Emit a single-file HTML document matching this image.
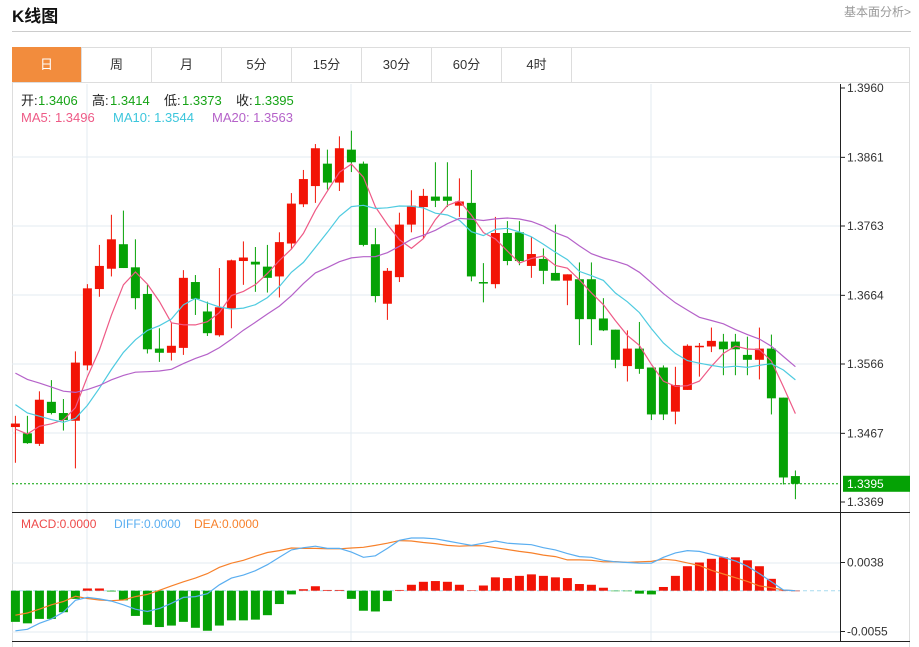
<!DOCTYPE html>
<html><head><meta charset="utf-8">
<style>
body{margin:0;width:919px;height:647px;background:#fff;font-family:"Liberation Sans","Noto Sans CJK SC",sans-serif;overflow:hidden;position:relative}
.title{position:absolute;left:12px;top:2px;font-size:17px;font-weight:bold;color:#111}
.more{position:absolute;right:8px;top:3px;font-size:12px;color:#999}
.hr{position:absolute;left:12px;top:31px;width:899px;height:1px;background:#ccc}
.box{position:absolute;left:12px;top:47px;width:898px;height:600px;border:1px solid #ddd;border-bottom:none;box-sizing:border-box}
.tabs{position:absolute;left:12px;top:47px;height:36px;display:flex;border-bottom:1px solid #ddd;width:898px;box-sizing:border-box}
.tab{width:70px;height:35px;line-height:35px;text-align:center;font-size:13px;color:#333;border-right:1px solid #ddd;box-sizing:border-box}
.tab.on{background:#f28c3d;color:#fff}
svg{position:absolute;left:0;top:0}
</style></head><body>
<div class="title">K线图</div>
<div class="more">基本面分析&gt;</div>
<div class="hr"></div>
<div class="box"></div>
<div class="tabs">
<div class="tab on">日</div>
<div class="tab">周</div>
<div class="tab">月</div>
<div class="tab">5分</div>
<div class="tab">15分</div>
<div class="tab">30分</div>
<div class="tab">60分</div>
<div class="tab">4时</div>
</div>
<svg id="c" width="919" height="647"></svg>
<script>
const opens=[1.3476,1.3467,1.3452,1.3512,1.3496,1.3485,1.3564,1.3673,1.3702,1.3737,1.3704,1.3666,1.3588,1.3582,1.3589,1.3683,1.3641,1.3607,1.3645,1.3713,1.3712,1.3705,1.3691,1.3738,1.3794,1.3820,1.3852,1.3825,1.3872,1.3852,1.3737,1.3652,1.3690,1.3765,1.3790,1.3805,1.3805,1.3792,1.3796,1.3683,1.3680,1.3753,1.3754,1.3706,1.3716,1.3696,1.3685,1.3687,1.3687,1.3631,1.3615,1.3563,1.3588,1.3561,1.3561,1.3498,1.3529,1.3590,1.3591,1.3598,1.3598,1.3579,1.3572,1.3588,1.3518,1.3406];
const highs=[1.3492,1.3492,1.3527,1.3543,1.3516,1.3584,1.3680,1.3736,1.3779,1.3785,1.3744,1.3679,1.3617,1.3624,1.3700,1.3693,1.3655,1.3703,1.3715,1.3741,1.3733,1.3736,1.3754,1.3810,1.3843,1.3880,1.3872,1.3891,1.3899,1.3855,1.3760,1.3703,1.3782,1.3814,1.3816,1.3854,1.3854,1.3831,1.3843,1.3710,1.3776,1.3770,1.3770,1.3748,1.3731,1.3765,1.3694,1.3711,1.3711,1.3660,1.3615,1.3614,1.3626,1.3561,1.3564,1.3562,1.3594,1.3596,1.3618,1.3609,1.3609,1.3605,1.3618,1.3608,1.3518,1.3414];
const lows=[1.3425,1.3452,1.3449,1.3494,1.3471,1.3417,1.3557,1.3662,1.3691,1.3703,1.3644,1.3581,1.3569,1.3571,1.3579,1.3636,1.3606,1.3605,1.3617,1.3679,1.3669,1.3668,1.3661,1.3730,1.3790,1.3796,1.3815,1.3813,1.3840,1.3734,1.3654,1.3629,1.3683,1.3754,1.3745,1.3790,1.3790,1.3776,1.3684,1.3654,1.3674,1.3707,1.3707,1.3689,1.3680,1.3685,1.3650,1.3593,1.3593,1.3613,1.3560,1.3541,1.3552,1.3486,1.3486,1.3480,1.3529,1.3548,1.3583,1.3550,1.3550,1.3550,1.3544,1.3494,1.3394,1.3373];
const closes=[1.3481,1.3453,1.3515,1.3496,1.3486,1.3568,1.3674,1.3706,1.3744,1.3703,1.3660,1.3587,1.3582,1.3592,1.3689,1.3659,1.3610,1.3647,1.3714,1.3718,1.3708,1.3689,1.3740,1.3795,1.3830,1.3874,1.3825,1.3874,1.3854,1.3736,1.3663,1.3699,1.3765,1.3792,1.3806,1.3799,1.3799,1.3798,1.3691,1.3681,1.3753,1.3713,1.3713,1.3723,1.3699,1.3685,1.3694,1.3630,1.3630,1.3614,1.3572,1.3588,1.3559,1.3494,1.3494,1.3536,1.3592,1.3592,1.3599,1.3587,1.3587,1.3572,1.3588,1.3517,1.3404,1.3395];
const priorCloses=[1.3633,1.3620,1.3610,1.3605,1.3600,1.3595,1.3590,1.3580,1.3577,1.3570,1.3573,1.3560,1.3545,1.3525,1.3512,1.3488,1.3460,1.3478,1.3458];
const macdBars=[-0.0042,-0.0044,-0.0038,-0.0038,-0.0029,-0.0011,0.0003,0.0003,-0.0001,-0.0013,-0.0034,-0.0046,-0.0049,-0.0047,-0.0042,-0.0050,-0.0054,-0.0047,-0.0040,-0.0040,-0.0039,-0.0033,-0.0018,-0.0005,0.0002,0.0006,0.0001,0.0001,-0.0011,-0.0027,-0.0028,-0.0014,0.0001,0.0008,0.0012,0.0013,0.0012,0.0008,0.00003,0.0007,0.0018,0.0017,0.0020,0.0022,0.0020,0.0018,0.0017,0.0009,0.0008,0.0004,-0.00004,-0.00004,-0.0004,-0.0005,0.0005,0.0020,0.0033,0.0038,0.0043,0.0045,0.0045,0.0041,0.0033,0.0016,0.00002,0];
const diffLine=[-0.0054,-0.0052,-0.0044,-0.0038,-0.0029,-0.0013,-0.0009,-0.0011,-0.0014,-0.0019,-0.0025,-0.0028,-0.0024,-0.0017,-0.0009,-0.0008,-0.0004,0.0008,0.0017,0.0021,0.0027,0.0035,0.0045,0.0055,0.0058,0.0060,0.0057,0.0057,0.0052,0.0045,0.0047,0.0057,0.0068,0.0071,0.0071,0.0070,0.0067,0.0064,0.0061,0.0064,0.0067,0.0064,0.0063,0.0062,0.0058,0.0055,0.0050,0.0046,0.0045,0.0041,0.0039,0.0038,0.0037,0.0037,0.0045,0.0051,0.0054,0.0053,0.0049,0.0045,0.0040,0.0033,0.0023,0.0012,0.0001,0];
const priceTicks=[1.3960,1.3861,1.3763,1.3664,1.3566,1.3467,1.3369];
const macdTicks=[0.0038,-0.0055];

const svg=document.getElementById('c');
const NS='http://www.w3.org/2000/svg';
function mk(t,a,p){const e=document.createElementNS(NS,t);for(const k in a)e.setAttribute(k,a[k]);(p||svg).appendChild(e);return e;}
const yP=p=>88+(1.3960-p)*7005;
const yM=v=>590.7-v*7419;
const xI=i=>15.4+12*i;
const RED='#f21406',GRN='#05a205';

// grid
[157,226,295,364,433].forEach((y,k)=>{const g=mk('line',{x1:12,x2:840,y1:y,y2:y,stroke:'#e3ebf2'});

});
[563,632].forEach(y=>{const g=mk('line',{x1:12,x2:840,y1:y,y2:y,stroke:'#e3ebf2'});

});
[87,351,651].forEach(x=>{const g=mk('line',{x1:x,x2:x,y1:84,y2:642,stroke:'#e3ebf2'});

});
// frame lines
let ln=mk('line',{x1:840.5,x2:840.5,y1:84,y2:642,stroke:'#222'});


ln=mk('line',{x1:12,x2:910,y1:512.5,y2:512.5,stroke:'#222'});


ln=mk('line',{x1:12,x2:910,y1:641.5,y2:641.5,stroke:'#222'});



// price ticks
priceTicks.forEach(v=>{const y=yP(v);
const t=mk('line',{x1:840,x2:845,y1:y,y2:y,stroke:'#222'});


const tx=mk('text',{x:847,y:y+4,'font-size':12,fill:'#333'});tx.textContent=v.toFixed(4);

});
macdTicks.forEach(v=>{const y=yM(v);
const t=mk('line',{x1:840,x2:845,y1:y,y2:y,stroke:'#222'});


const tx=mk('text',{x:847,y:y+4,'font-size':12,fill:'#333'});tx.textContent=v.toFixed(4);

});

// candles
for(let i=0;i<closes.length;i++){
  const up=closes[i]>=opens[i],c=up?RED:GRN,x=xI(i);
  const g=mk('g',{});
  
  
  mk('line',{x1:x,x2:x,y1:yP(highs[i]),y2:yP(lows[i]),stroke:c,'stroke-width':1},g);
  const t=Math.min(yP(opens[i]),yP(closes[i])),h=Math.max(1.5,Math.abs(yP(opens[i])-yP(closes[i])));
  mk('rect',{x:x-4.5,y:t,width:9,height:h,fill:c},g);
}
// MAs
const full=priorCloses.concat(closes);
function ma(n){const r=[];for(let i=0;i<closes.length;i++){let s=0;for(let k=0;k<n;k++)s+=full[priorCloses.length+i-k];r.push(s/n);}return r;}
[[5,'#ee5a86','ma5-line'],[10,'#4fcbe0','ma10-line'],[20,'#b562c9','ma20-line']].forEach(([n,col,name])=>{
  const m=ma(n);const pts=m.map((v,i)=>xI(i).toFixed(1)+','+yP(v).toFixed(1)).join(' ');
  const p=mk('polyline',{points:pts,fill:'none',stroke:col,'stroke-width':1.2});
  
  
});
// current price line
const cy=yP(closes[closes.length-1]);
ln=mk('line',{x1:12,x2:840,y1:cy,y2:cy,stroke:GRN,'stroke-dasharray':'2,2'});


const cr=mk('rect',{x:843,y:cy-8,width:67,height:16,fill:GRN});


const ct=mk('text',{x:847,y:cy+4,'font-size':12,fill:'#fff'});ct.textContent=closes[closes.length-1].toFixed(4);



// MACD
ln=mk('line',{x1:12,x2:840,y1:yM(0),y2:yM(0),stroke:'#a8dcef','stroke-dasharray':'4,3'});


macdBars.forEach((v,i)=>{const y0=yM(0),y1=yM(v);
  const r=mk('rect',{x:xI(i)-4.5,y:Math.min(y0,y1),width:9,height:Math.max(0.5,Math.abs(y1-y0)),fill:v>=0?RED:GRN});
  
  });
const dea=diffLine.map((d,i)=>d-macdBars[i]/2);
let pl=mk('polyline',{points:dea.map((v,i)=>xI(i)+','+yM(v).toFixed(1)).join(' '),fill:'none',stroke:'#f7812b','stroke-width':1.2});


pl=mk('polyline',{points:diffLine.map((v,i)=>xI(i)+','+yM(v).toFixed(1)).join(' '),fill:'none',stroke:'#5aaef0','stroke-width':1.2});



// legends
function txt(x,y,s,col,name){const t=mk('text',{x:x,y:y,'font-size':13,fill:col});t.textContent=s;

return t;}
txt(21,105,'开:','#222','open-label');txt(38,105,'1.3406','#16a316','open-value');
txt(92,105,'高:','#222','high-label');txt(110,105,'1.3414','#16a316','high-value');
txt(164,105,'低:','#222','low-label');txt(182,105,'1.3373','#16a316','low-value');
txt(236,105,'收:','#222','close-label');txt(254,105,'1.3395','#16a316','close-value');
txt(21,122,'MA5: 1.3496','#ee5a86','ma5-legend');
txt(113,122,'MA10: 1.3544','#3cc6dc','ma10-legend');
txt(212,122,'MA20: 1.3563','#b562c9','ma20-legend');
const ml=[[21,'MACD:0.0000','#ee4a4a','macd-legend'],[114,'DIFF:0.0000','#5aaef0','diff-legend'],[194,'DEA:0.0000','#f7812b','dea-legend']];
ml.forEach(([x,s,c,n])=>{const t=mk('text',{x:x,y:528,'font-size':12,fill:c});t.textContent=s;

});
</script>
</body></html>
